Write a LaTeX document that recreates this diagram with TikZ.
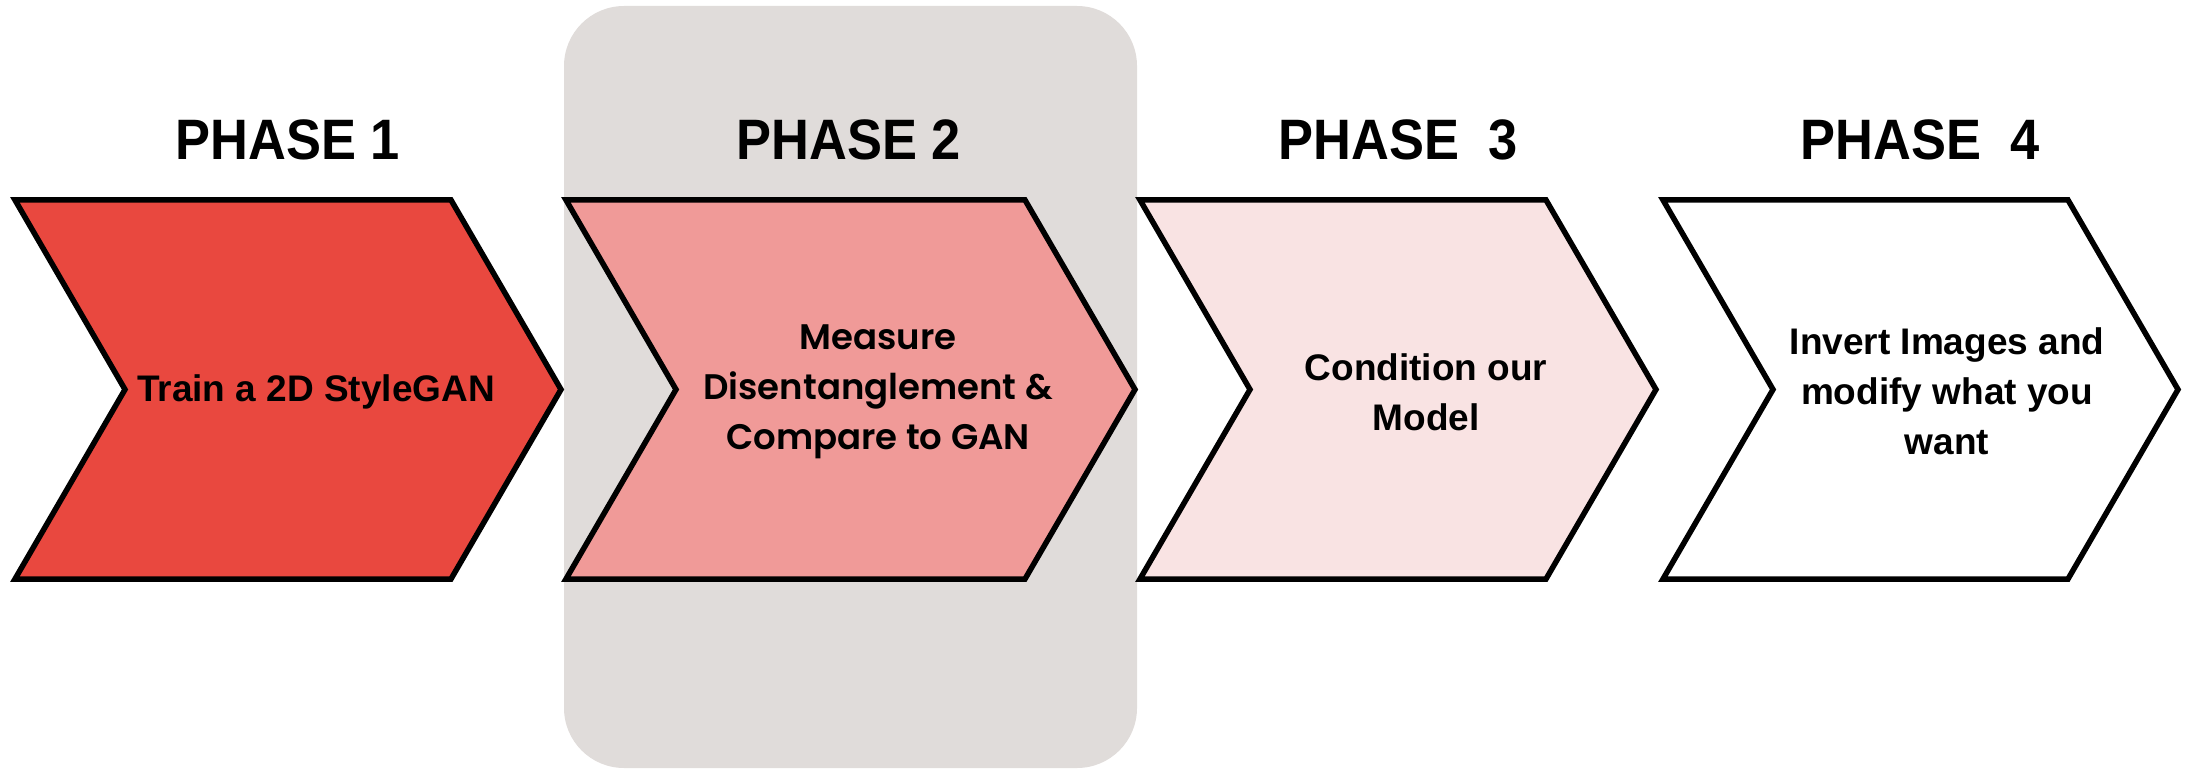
\documentclass[tikz,border=0pt]{standalone}
\usepackage{fontspec}
\setmainfont{Liberation Sans}
\newfontfamily\headfont{Liberation Sans}[FakeStretch=0.92]
\newfontfamily\popfont{Poppins}[BoldFont={Poppins SemiBold}]
\definecolor{panelgray}{HTML}{E0DCDA}
\definecolor{phaseone}{HTML}{E9483F}
\definecolor{phasetwo}{HTML}{F09A98}
\definecolor{phasethree}{HTML}{F9E3E3}
\tikzset{
  chevron/.style={draw=black, line width=5.5pt, line join=miter},
  phasetitle/.style={anchor=base, inner sep=0pt, font=\headfont\bfseries\fontsize{57}{60}\selectfont},
  phasetext/.style={anchor=center, inner sep=0pt, align=center, font=\bfseries\fontsize{37}{50}\selectfont},
}
% chevron between left edge #1 and tip #2, filled with #3
\newcommand{\phasechevron}[3]{%
  \filldraw[chevron, fill=#3]
    (#1,200) -- ({#2-110},200) -- (#2,389.5) -- ({#2-110},579) -- (#1,579)
    -- ({#1+110},389.5) -- cycle;}
\begin{document}
\begin{tikzpicture}[x=1pt,y=-1pt]
\useasboundingbox (0,0) rectangle (2190,770);
% highlighted column behind phase 2
\fill[panelgray, rounded corners=60pt] (564,6) rectangle (1137,768);
% the four phase arrows
\phasechevron{15}{561}{phaseone}
\phasechevron{566}{1135}{phasetwo}
\phasechevron{1140}{1656}{phasethree}
\phasechevron{1663}{2178}{white}
% titles
\node[phasetitle] (t1) at (288,160) {PHASE 1};
\node[phasetitle] (t2) at (849,160) {PHASE 2};
\node[phasetitle] (t3) at (1398,160) {PHASE\ \ 3};
\node[phasetitle] (t4) at (1920,160) {PHASE\ \ 4};
% descriptions
\node[phasetext] (d1) at (316,392) {Train a 2D StyleGAN};
\node[phasetext, font=\popfont\bfseries\fontsize{35.5}{50}\selectfont] (d2) at (878,392) {Measure\\Disentanglement \&\\Compare to GAN};
\node[phasetext] (d3) at (1426,392) {Condition our\\Model};
\node[phasetext] (d4) at (1947,391) {Invert Images and\\modify what you\\want};
\end{tikzpicture}
\end{document}
